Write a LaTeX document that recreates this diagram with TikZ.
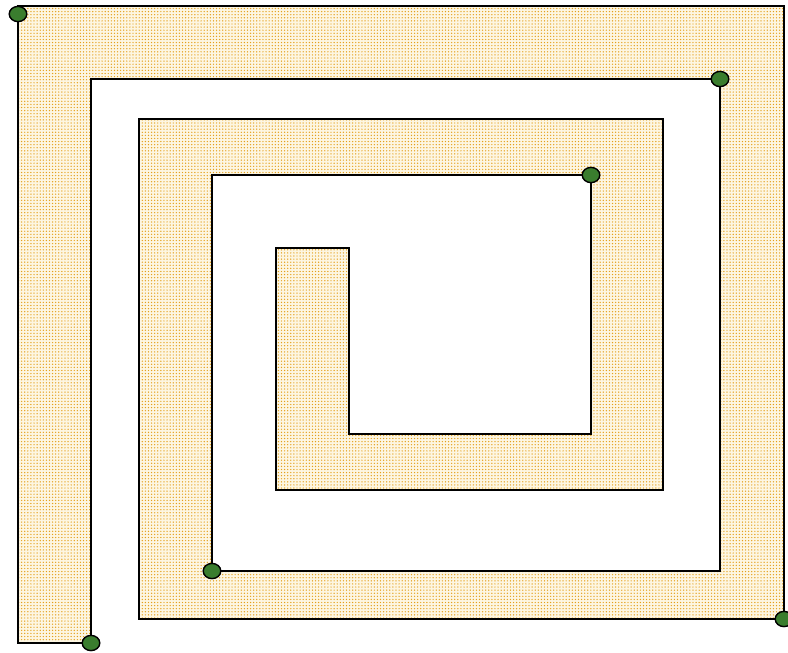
\documentclass[tikz,border=0pt]{standalone}
\usepackage{xcolor}
\usepackage{tikz}
\usetikzlibrary{patterns, shapes.geometric}

\definecolor{sand}{RGB}{253,246,226}
\definecolor{gold}{RGB}{228,160,28}
\definecolor{leaf}{RGB}{58,125,46}

\pgfdeclarepatternformonly{golddots}{\pgfqpoint{-1pt}{-1pt}}{\pgfqpoint{1pt}{1pt}}{\pgfqpoint{2.2pt}{2.2pt}}{
    \pgfpathcircle{\pgfqpoint{0pt}{0pt}}{0.5pt}
    \pgfusepath{fill}
}

\begin{document}
\begin{tikzpicture}[
    x=0.025cm, y=-0.025cm,
    band/.style={draw, line width=1pt, preaction={fill=sand}, pattern=golddots, pattern color=gold},
    joint/.style={draw, ellipse, fill=leaf, line width=1pt, inner sep=0pt, minimum width=0.44cm, minimum height=0.38cm},
]
\useasboundingbox (0, 0) rectangle (788, 652);

\draw[band] (18, 6) -- (784, 6) -- (784, 619) -- (139, 619) -- (139, 119)
    -- (663, 119) -- (663, 490) -- (276, 490) -- (276, 248) -- (349, 248)
    -- (349, 434) -- (591, 434) -- (591, 175) -- (212, 175) -- (212, 571)
    -- (720, 571) -- (720, 79) -- (91, 79) -- (91, 643) -- (18, 643) -- cycle;

\node[joint] (j1) at (18, 14) {};
\node[joint] (j2) at (720, 79) {};
\node[joint] (j3) at (591, 175) {};
\node[joint] (j4) at (212, 571) {};
\node[joint] (j5) at (784, 619) {};
\node[joint] (j6) at (91, 643) {};
\end{tikzpicture}
\end{document}
